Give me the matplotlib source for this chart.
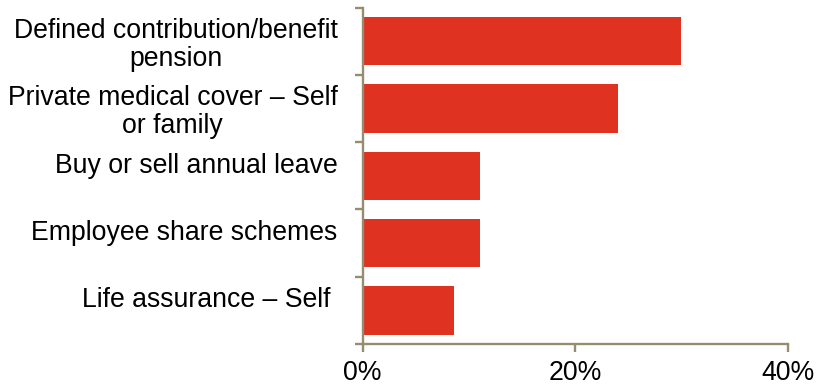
import numpy as np
import matplotlib.pyplot as plt

labels = ['Defined contribution/benefit\npension',
          'Private medical cover – Self\nor family',
          'Buy or sell annual leave',
          'Employee share schemes',
          'Life assurance – Self ']
values = [30, 24, 11, 11, 8.6]
xticks = [0, 20, 40]

bar_color = '#E03220'
axis_color = '#968C6E'

plt.rcParams['font.family'] = ['Liberation Sans', 'DejaVu Sans']

fig = plt.figure(figsize=(8.16, 3.89), dpi=100)
ax = fig.add_axes([0.4445, 0.1157, 0.5208, 0.865])

y = np.arange(len(labels))
ax.barh(y, values, height=0.72, color=bar_color)

ax.set_xlim(0, 40)
ax.set_ylim(len(labels) - 0.5, -0.5)

# category labels: single lines sit in the top half of a two-line slot
ax.set_yticks(y)
ax.set_yticklabels([lab if '\n' in lab else lab + '\n' for lab in labels],
                   fontsize=19.2, linespacing=1.1, multialignment='center')
ax.tick_params(axis='y', which='major', length=0, pad=18)
ax.set_yticks(np.arange(-0.5, len(labels)), minor=True)
ax.tick_params(axis='y', which='minor', length=5.5, width=1.7,
               color=axis_color, direction='out')

ax.set_xticks(xticks)
ax.set_xticklabels([f'{t}%' for t in xticks], fontsize=19.2)
ax.tick_params(axis='x', length=5.5, width=1.7, color=axis_color, pad=6)

for side in ['top', 'right']:
    ax.spines[side].set_visible(False)
for side in ['left', 'bottom']:
    ax.spines[side].set_color(axis_color)
    ax.spines[side].set_linewidth(1.7)

plt.savefig('out.png', dpi=100)
